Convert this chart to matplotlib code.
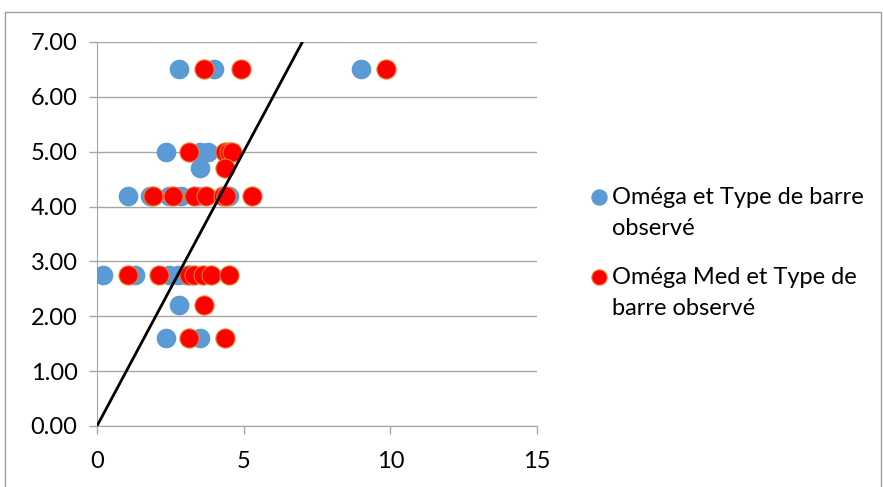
import matplotlib
matplotlib.use('Agg')
import matplotlib.pyplot as plt
from matplotlib.lines import Line2D
from matplotlib.patches import Rectangle

# Oméga et Type de barre observé
omega_x = [2.8, 4.0, 9.0,
           2.35, 3.5, 3.8,
           3.5,
           1.05, 1.8, 2.45, 2.85, 3.45, 4.5,
           0.2, 1.3, 2.45, 2.75, 3.05,
           2.8,
           2.35, 3.5]
omega_y = [6.5, 6.5, 6.5,
           5.0, 5.0, 5.0,
           4.7,
           4.2, 4.2, 4.2, 4.2, 4.2, 4.2,
           2.75, 2.75, 2.75, 2.75, 2.75,
           2.2,
           1.6, 1.6]

# Oméga Med et Type de barre observé
med_x = [3.65, 4.9, 9.85,
         3.15, 4.35, 4.5, 4.6,
         4.35,
         1.9, 2.6, 3.3, 3.7, 4.3, 4.4, 5.3,
         1.05, 2.1, 3.15, 3.3, 3.6, 3.9, 4.5,
         3.65,
         3.15, 4.35]
med_y = [6.5, 6.5, 6.5,
         5.0, 5.0, 5.0, 5.0,
         4.7,
         4.2, 4.2, 4.2, 4.2, 4.2, 4.2, 4.2,
         2.75, 2.75, 2.75, 2.75, 2.75, 2.75, 2.75,
         2.2,
         1.6, 1.6]

line_x = [0, 7]
line_y = [0, 7]

labels = ['Oméga et Type de barre\nobservé', 'Oméga Med et Type de\nbarre observé']

blue = '#5B9BD5'
red = '#FF0000'
orange = '#ED7D31'
grey = '#A6A6A6'

plt.rcParams['font.family'] = ['Lato', 'DejaVu Sans']
plt.rcParams['font.size'] = 17

fig = plt.figure(figsize=(8.83, 4.87), dpi=100)
ax = fig.add_axes([97 / 883, 1 - 426 / 487, 440 / 883, 384 / 487])

ax.scatter(omega_x, omega_y, s=200, color=blue, linewidths=0, zorder=3)
ax.scatter(med_x, med_y, s=190, color=red, edgecolors=orange, linewidths=0.8, zorder=4)
ax.plot(line_x, line_y, color='black', linewidth=2, zorder=5)

ax.set_xlim(0, 15)
ax.set_ylim(0, 7)
ax.set_xticks([0, 5, 10, 15])
ax.set_yticks([i for i in range(8)])
ax.set_yticklabels(['%.2f' % i for i in range(8)])
ax.yaxis.grid(True, color=grey, linewidth=1)
ax.set_axisbelow(True)
for side in ['top', 'right']:
    ax.spines[side].set_visible(False)
for side in ['left', 'bottom']:
    ax.spines[side].set_color(grey)
ax.tick_params(axis='both', colors=grey, length=6, width=1, labelcolor='black')
ax.tick_params(axis='y', pad=8)
ax.tick_params(axis='x', pad=12)

# legend drawn by hand so the marker sits on the first text line
leg_y = [197, 277]
leg_colors = [blue, red]
leg_edges = [blue, orange]
for yy, c, e, lab in zip(leg_y, leg_colors, leg_edges, labels):
    fig.add_artist(Line2D([599 / 883], [1 - yy / 487], transform=fig.transFigure,
                          marker='o', markersize=11, color=c, markeredgecolor=e,
                          markeredgewidth=0.8))
    for i, part in enumerate(lab.split('\n')):
        fig.text(612 / 883, 1 - (yy + 7 + 31 * i) / 487, part,
                 ha='left', va='baseline', fontsize=17)

# chart area border
fig.add_artist(Rectangle((5 / 883, -0.1), 876 / 883, 1.1 - 12 / 487,
                         transform=fig.transFigure, fill=False,
                         edgecolor='#A0A0A0', linewidth=1))

fig.savefig('out.png', dpi=100)
